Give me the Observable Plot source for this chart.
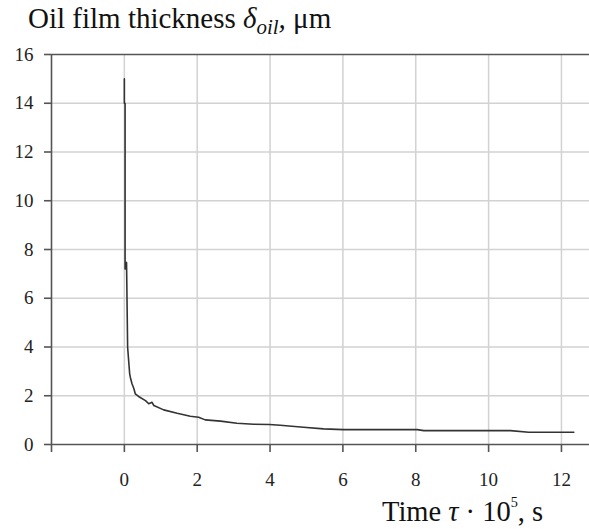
<!DOCTYPE html>
<html>
<head>
<meta charset="utf-8">
<script src="https://cdn.jsdelivr.net/npm/d3@7"></script>
<script src="https://cdn.jsdelivr.net/npm/@observablehq/plot@0.6"></script>
<style>
  html, body { margin: 0; padding: 0; background: #fff; }
  #wrap { position: relative; width: 589px; height: 529px; overflow: hidden; font-family: "Liberation Serif", "Times New Roman", serif; color: #111; }
  #title { position: absolute; left: 28px; top: 4px; font-size: 29px; line-height: 29px; white-space: nowrap; }
  #title sub { font-size: 0.72em; vertical-align: baseline; position: relative; top: 0.28em; }
  #chart { position: absolute; left: 0; top: 40px; }
  #chart svg text { font-family: "Liberation Serif", "Times New Roman", serif; }
  #xlabel { position: absolute; left: 382px; top: 498px; font-size: 28.5px; line-height: 28px; white-space: nowrap; }
  #xlabel sup { font-size: 0.5em; vertical-align: baseline; position: relative; top: -0.95em; }
</style>
</head>
<body>
<div id="wrap">
  <div id="title">Oil film thickness <i>δ</i><sub><i>oil</i></sub><i>,</i> μm</div>
  <div id="chart"></div>
  <div id="xlabel">Time <i>τ</i> · 10<sup>5</sup>, s</div>
</div>
<script>
// Data
const time = [0, 0, 0.02, 0.02, 0.06, 0.09, 0.146, 0.165, 0.21, 0.26, 0.30, 0.39, 0.58, 0.67, 0.76, 0.81, 1.08, 1.45, 1.81, 2.04, 2.22, 2.64, 3.09, 3.55, 3.98, 4.28, 4.92, 5.47, 6.02, 8.04, 8.22, 10.6, 11.1, 12.34];
const thickness = [15.0, 14.0, 14.0, 7.2, 7.47, 3.99, 2.9, 2.75, 2.49, 2.3, 2.08, 1.97, 1.80, 1.67, 1.73, 1.60, 1.42, 1.28, 1.16, 1.12, 1.01, 0.96, 0.87, 0.83, 0.82, 0.79, 0.71, 0.64, 0.61, 0.61, 0.57, 0.57, 0.50, 0.50];
const xTicks = [-2, 0, 2, 4, 6, 8, 10, 12];
const xGrid = [0, 2, 4, 6, 8, 10, 12];
const yTicks = [0, 2, 4, 6, 8, 10, 12, 14, 16];
const yGrid = [2, 4, 6, 8, 10, 12, 14];

const data = time.map((t, i) => ({t, v: thickness[i]}));
const serif = "'Liberation Serif', 'Times New Roman', serif";

const chart = Plot.plot({
  width: 589,
  height: 455,
  marginTop: 14,
  marginBottom: 51,
  marginLeft: 51,
  marginRight: 0,
  style: {fontFamily: serif, fontSize: "19px", color: "#222", background: "#fff", overflow: "visible"},
  x: {domain: [-2, 12.77]},
  y: {domain: [0, 16]},
  marks: [
    Plot.gridY(yGrid, {stroke: "#d2d2d2", strokeOpacity: 1, strokeWidth: 1.5}),
    Plot.gridX(xGrid, {stroke: "#d2d2d2", strokeOpacity: 1, strokeWidth: 1.5}),
    Plot.ruleY([0, 16], {stroke: "#555", strokeWidth: 1.6}),
    Plot.ruleX([-2], {stroke: "#555", strokeWidth: 1.6}),
    Plot.axisY(yTicks, {anchor: "left", tickSize: 7, tickPadding: 11, fontSize: 19, fontFamily: serif, label: null}),
    Plot.axisX(xTicks, {anchor: "bottom", tickSize: 8, tickPadding: 20, fontSize: 19, fontFamily: serif, label: null, tickFormat: d => d === -2 ? "" : String(d)}),
    Plot.line(data, {x: "t", y: "v", stroke: "#333", strokeWidth: 1.6})
  ]
});
document.getElementById("chart").appendChild(chart);
chart.querySelectorAll('g[aria-label$="tick"]').forEach(g => { g.setAttribute("stroke", "#555"); g.setAttribute("stroke-width", "1.6"); });
</script>
</body>
</html>
